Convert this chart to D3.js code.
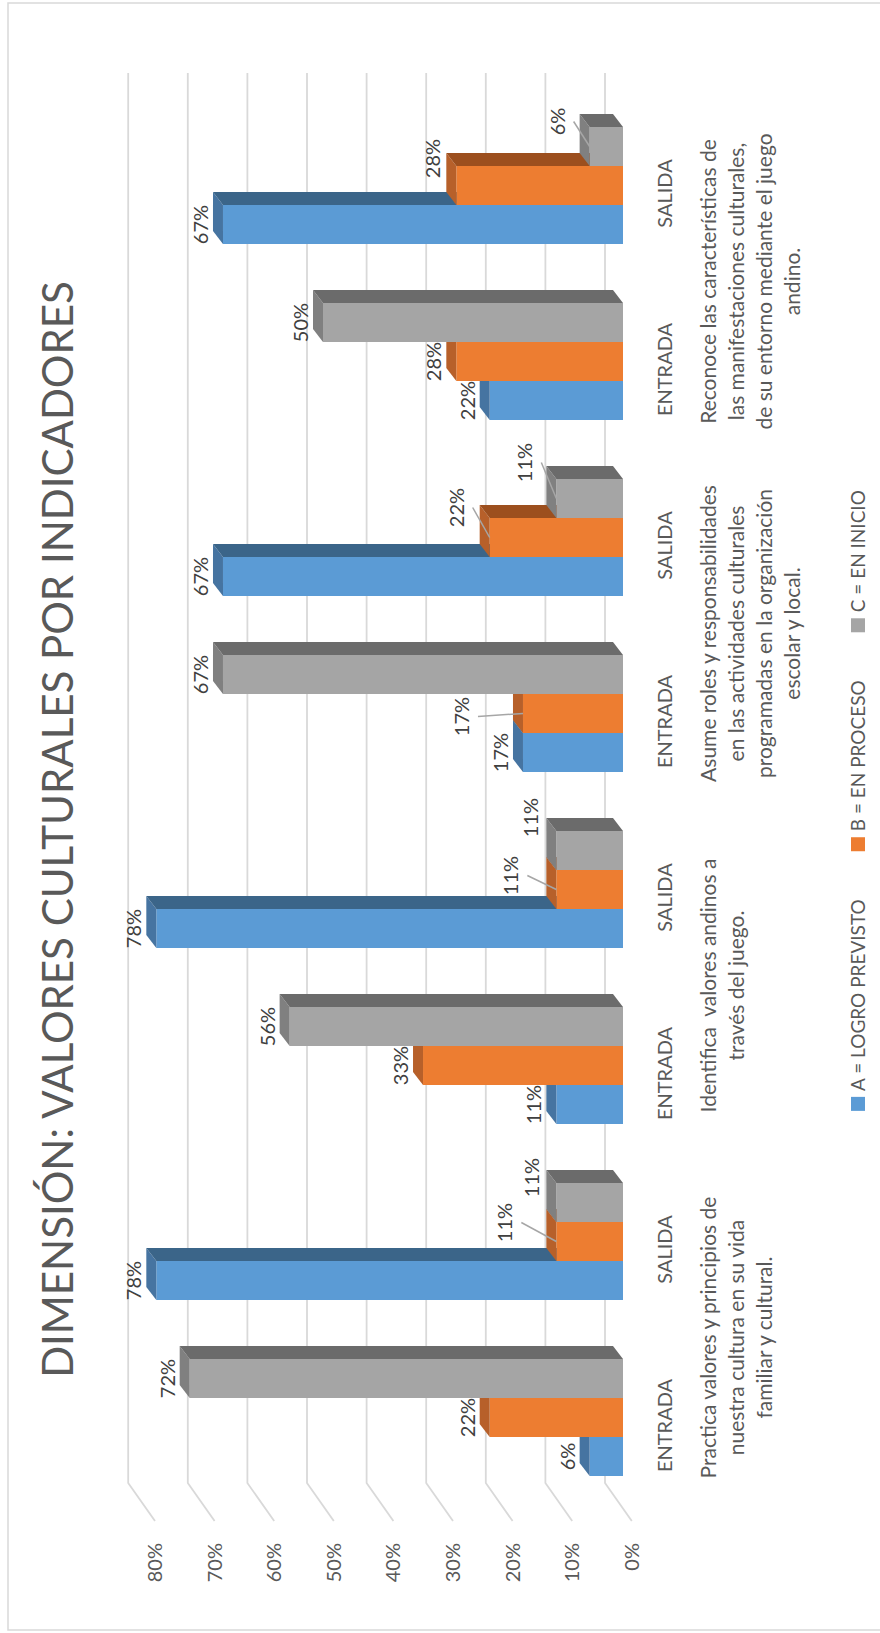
<!DOCTYPE html>
<html>
<head>
<meta charset="utf-8">
<script src="https://cdn.jsdelivr.net/npm/d3@7"></script>
<style>
  body { margin: 0; background: #fff; }
  svg { display: block; }
  text { font-family: Lato, 'Open Sans', sans-serif; }
</style>
</head>
<body>
<svg id="chart"></svg>
<script>
// data
const indicadores = [
  ['Practica valores y principios de', 'nuestra cultura en su vida', 'familiar y cultural.'],
  ['Identifica  valores andinos a', 'través del juego.'],
  ['Asume roles y responsabilidades', 'en las actividades culturales', 'programadas en la organización', 'escolar y local.'],
  ['Reconoce las características de', 'las manifestaciones culturales,', 'de su entorno mediante el juego', 'andino.']
];
const momentos = ['ENTRADA', 'SALIDA'];
const seriesNames = ['A = LOGRO PREVISTO', 'B = EN PROCESO', 'C = EN INICIO'];
// one value per indicador x momento, in the order above
const logroPrevisto = [0.0556, 0.7778, 0.1111, 0.7778, 0.1667, 0.6667, 0.2222, 0.6667];
const enProceso     = [0.2222, 0.1111, 0.3333, 0.1111, 0.1667, 0.2222, 0.2778, 0.2778];
const enInicio      = [0.7222, 0.1111, 0.5556, 0.1111, 0.6667, 0.1111, 0.5000, 0.0556];
const yTicks = [0, 0.1, 0.2, 0.3, 0.4, 0.5, 0.6, 0.7, 0.8];

const W = 880, H = 1633;
const fmt = d3.format('.0%');

// face colours: front, top, side
const colors = [
  ['#5b9bd5', '#4674a1', '#3b6589'],
  ['#ed7d31', '#b7602a', '#9c4f1e'],
  ['#a5a5a5', '#808080', '#6b6b6b']
];

// 3D depth offset (chart frame, before rotation)
const DU = 13, DV = -10;

// labels Excel moved off their default spot: [du, dv, leader line]
const labelNudge = {
  '1-1': [19, -29, true],
  '1-2': [25, -2, false],
  '3-1': [14, -23, true],
  '3-2': [33, -3, false],
  '4-1': [-3, -39, true],
  '5-1': [30, -11, true],
  '5-2': [36, -9, true],
  '7-1': [27, -1, false],
  '7-2': [25, -10, true]
};

const rows = [];
indicadores.forEach((ind, i) => {
  momentos.forEach((m, j) => {
    const k = i * 2 + j;
    rows.push({ key: k, ind: i, momento: m, values: [logroPrevisto[k], enProceso[k], enInicio[k]] });
  });
});

const svg = d3.select('#chart').attr('width', W).attr('height', H);

svg.append('rect')
  .attr('x', 8).attr('y', 3)
  .attr('width', W).attr('height', 1627)
  .attr('fill', '#fff')
  .attr('stroke', '#d9d9d9')
  .attr('stroke-width', 1.5);

// the chart lies on its side: u runs up the page, v runs across it
const g = svg.append('g').attr('transform', `translate(0,${H}) rotate(-90)`);

const x0 = d3.scaleBand()
  .domain(rows.map(d => d.key))
  .range([127.5, 1535.5])
  .paddingInner(59 / 176)
  .paddingOuter(59 / 352);

const x1 = d3.scaleBand()
  .domain([0, 1, 2])
  .range([0, x0.bandwidth()]);

const yFront = d3.scaleLinear().domain([0, 0.8]).range([623, 143]);
const yBack = d3.scaleLinear().domain([0, 0.8]).range([605, 128.2]);

// Gridlines on the back wall, bending onto the floor
g.append('g')
  .selectAll('path')
  .data(yTicks)
  .join('path')
  .attr('fill', 'none')
  .attr('stroke', '#d9d9d9')
  .attr('stroke-width', 1.8)
  .attr('d', t => `M1560,${yBack(t)}L150,${yBack(t)}L112,${yBack(t) + 26.8}`);

// Value axis labels
const yAxis = g.append('g')
  .attr('transform', 'translate(90,26.8)')
  .call(d3.axisLeft(yBack).tickValues(yTicks).tickFormat(fmt).tickSize(0).tickPadding(0));
yAxis.select('.domain').remove();
yAxis.selectAll('text')
  .attr('fill', '#595959')
  .attr('font-size', 20);

// Bars
const line = d3.line();
function faces(u0, w, vt, vb) {
  return [
    [[u0, vt], [u0 + w, vt], [u0 + w, vb], [u0, vb]],
    [[u0, vt], [u0 + DU, vt + DV], [u0 + w + DU, vt + DV], [u0 + w, vt]],
    [[u0 + w, vt], [u0 + w + DU, vt + DV], [u0 + w + DU, vb + DV], [u0 + w, vb]]
  ];
}

const rowG = g.append('g')
  .selectAll('g')
  .data(rows)
  .join('g')
  .attr('transform', d => `translate(${x0(d.key)},0)`);

rowG.selectAll('g')
  .data(d => d.values.map((v, s) => ({ v, s })))
  .join('g')
  .selectAll('path')
  .data(d => faces(x1(d.s), x1.bandwidth(), yFront(d.v), yFront(0)).map((pts, f) => ({ pts, fill: colors[d.s][f] })))
  .join('path')
  .attr('d', d => line(d.pts) + 'Z')
  .attr('fill', d => d.fill);

// Data labels
const labels = [];
rows.forEach(r => r.values.forEach((v, s) => {
  const n = labelNudge[r.key + '-' + s] || [0, 0, false];
  const uBar = x0(r.key) + x1(s) + x1.bandwidth() / 2;
  labels.push({
    v, uBar, vBar: yFront(v),
    u: uBar + n[0], vt: yFront(v) - 15 + n[1], leader: n[2]
  });
}));

g.append('g')
  .selectAll('line')
  .data(labels.filter(d => d.leader))
  .join('line')
  .attr('x1', d => d.u)
  .attr('y1', d => d.vt + 9)
  .attr('x2', d => d.uBar)
  .attr('y2', d => d.vBar)
  .attr('stroke', '#a6a6a6')
  .attr('stroke-width', 1.5);

g.append('g')
  .selectAll('text')
  .data(labels)
  .join('text')
  .attr('x', d => d.u)
  .attr('y', d => d.vt)
  .attr('text-anchor', 'middle')
  .attr('font-size', 20)
  .attr('fill', '#404040')
  .text(d => fmt(d.v));

// Category axis (ENTRADA / SALIDA)
const xAxis = g.append('g')
  .attr('transform', 'translate(-8,658)')
  .call(d3.axisBottom(x0).tickFormat(k => rows[k].momento).tickSize(0).tickPadding(0));
xAxis.select('.domain').remove();
xAxis.selectAll('text')
  .attr('fill', '#595959')
  .attr('font-size', 20);

// Indicator labels under each pair
g.append('g')
  .selectAll('text')
  .data(indicadores)
  .join('text')
  .attr('text-anchor', 'middle')
  .attr('font-size', 21)
  .attr('fill', '#595959')
  .style('white-space', 'pre')
  .each(function (lines, i) {
    const cu = (x0(i * 2) + x0(i * 2 + 1) + x0.bandwidth()) / 2 - 8;
    d3.select(this).selectAll('tspan')
      .data(lines)
      .join('tspan')
      .attr('x', cu)
      .attr('y', (d, j) => 716 + j * 28)
      .text(d => d);
  });

// Title
g.append('text')
  .attr('x', 803.5)
  .attr('y', 73)
  .attr('text-anchor', 'middle')
  .attr('font-size', 42)
  .attr('fill', '#595959')
  .text('DIMENSIÓN: VALORES CULTURALES POR INDICADORES');

// Legend
const legend = g.append('g').attr('transform', 'translate(0,858)');
const items = legend.selectAll('g')
  .data(seriesNames)
  .join('g');
items.append('rect')
  .attr('y', -7)
  .attr('width', 14)
  .attr('height', 14)
  .attr('fill', (d, i) => colors[i][0]);
items.append('text')
  .attr('x', 20)
  .attr('dy', '0.35em')
  .attr('font-size', 19)
  .attr('fill', '#595959')
  .text(d => d);

let widths = [];
items.each(function () { widths.push(20 + this.querySelector('text').getComputedTextLength()); });
const gap = 48;
const total = d3.sum(widths) + gap * (widths.length - 1);
let pos = 832.5 - total / 2;
items.attr('transform', (d, i) => {
  const t = `translate(${pos},0)`;
  pos += widths[i] + gap;
  return t;
});
</script>
</body>
</html>
